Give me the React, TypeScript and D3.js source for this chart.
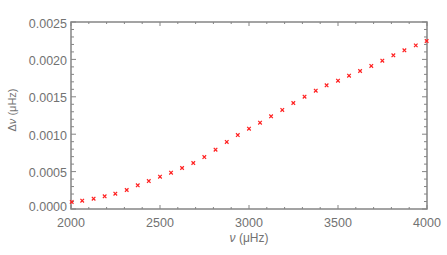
import * as d3 from "d3";

// frequency (µHz) and frequency difference (µHz)
const nuValues = [
  2004, 2063, 2127, 2189, 2249, 2313, 2375, 2437, 2500, 2562, 2624,
  2687, 2749, 2812, 2875, 2937, 3000, 3062, 3124, 3187, 3249,
  3312, 3375, 3436, 3500, 3562, 3624, 3687, 3749, 3811, 3873, 3937, 3998,
];
const dnuValues = [
  0.000094, 0.000111, 0.000138, 0.00017, 0.000205, 0.000254, 0.000317, 0.000374, 0.000432, 0.000485, 0.000548,
  0.000615, 0.000695, 0.000793, 0.000896, 0.000989, 0.001074, 0.001154, 0.001239, 0.001324, 0.001417,
  0.001501, 0.001582, 0.001654, 0.001715, 0.001782, 0.001845, 0.001912, 0.001983, 0.002055, 0.002122, 0.002188, 0.002246,
];
const xTickLabels = ["2000", "2500", "3000", "3500", "4000"];
const yTickLabels = ["0.0000", "0.0005", "0.0010", "0.0015", "0.0020", "0.0025"];

const W = 447;
const H = 255;
const margin = { top: 22, right: 20, bottom: 46, left: 71 };
const axisColor = "#858585";
const textColor = "#727272";
const font = "'Liberation Sans', Arial, sans-serif";

export default function App() {
  const x = d3.scaleLinear().domain([2000, 4000]).range([margin.left, W - margin.right]);
  const y = d3.scaleLinear().domain([0, 0.0025]).range([H - margin.bottom, margin.top]);
  const [x0, x1] = x.range();
  const [y0, y1] = y.range();

  const majorX = xTickLabels.map(Number);
  const majorY = yTickLabels.map(Number);
  const minorX = x.ticks(20);
  const minorY = y.ticks(25);

  const marker = d3.symbol().type(d3.symbolTimes).size(10)();

  return (
    <svg
      width={W}
      height={H}
      style={{ position: "absolute", left: 0, top: 0, background: "#fff" }}
      fontFamily={font}
    >
      {/* frame */}
      <rect x={x0} y={y1} width={x1 - x0} height={y0 - y1} fill="none" stroke={axisColor} strokeWidth={1.5} />

      {/* x ticks, bottom and top, pointing inward */}
      {minorX.map((t, i) => {
        const len = majorX.includes(Math.round(t)) ? 4 : 2;
        return (
          <g key={"xt" + i} stroke={axisColor} strokeWidth={1}>
            <line x1={x(t)} x2={x(t)} y1={y0} y2={y0 - len} />
            <line x1={x(t)} x2={x(t)} y1={y1} y2={y1 + len} />
          </g>
        );
      })}

      {/* y ticks, left and right */}
      {minorY.map((t, i) => {
        const isMajor = majorY.some((m) => Math.abs(m - t) < 1e-9);
        const len = isMajor ? 5 : 3;
        return (
          <g key={"yt" + i} stroke={axisColor} strokeWidth={1}>
            <line x1={x0} x2={x0 + len} y1={y(t)} y2={y(t)} />
            <line x1={x1} x2={x1 - len} y1={y(t)} y2={y(t)} />
          </g>
        );
      })}

      {/* tick labels */}
      {xTickLabels.map((l) => (
        <text key={l} x={x(+l)} y={y0 + 18} textAnchor="middle" fontSize={12.5} fill={textColor}>
          {l}
        </text>
      ))}
      {yTickLabels.map((l, i) => (
        <text
          key={l}
          x={x0 - 4}
          y={y(+l) + (i === 0 ? -2 : 1.5)}
          textAnchor="end"
          dominantBaseline="central"
          fontSize={12.5}
          fill={textColor}
        >
          {l}
        </text>
      ))}

      {/* axis titles */}
      <text x={(x0 + x1) / 2} y={y0 + 33} textAnchor="middle" fontSize={12} fill={textColor}>
        <tspan fontStyle="italic">ν</tspan>{"  (μHz)"}
      </text>
      <text
        transform={`translate(16,110) rotate(-90)`}
        textAnchor="middle"
        fontSize={11}
        fill={textColor}
      >
        Δ<tspan fontStyle="italic">ν</tspan> (μHz)
      </text>

      {/* data */}
      {nuValues.map((nu, i) => (
        <path
          key={"p" + i}
          d={marker}
          transform={`translate(${x(nu)},${y(dnuValues[i])})`}
          fill="none"
          stroke="#ff2020"
          strokeWidth={1.2}
        />
      ))}
    </svg>
  );
}
